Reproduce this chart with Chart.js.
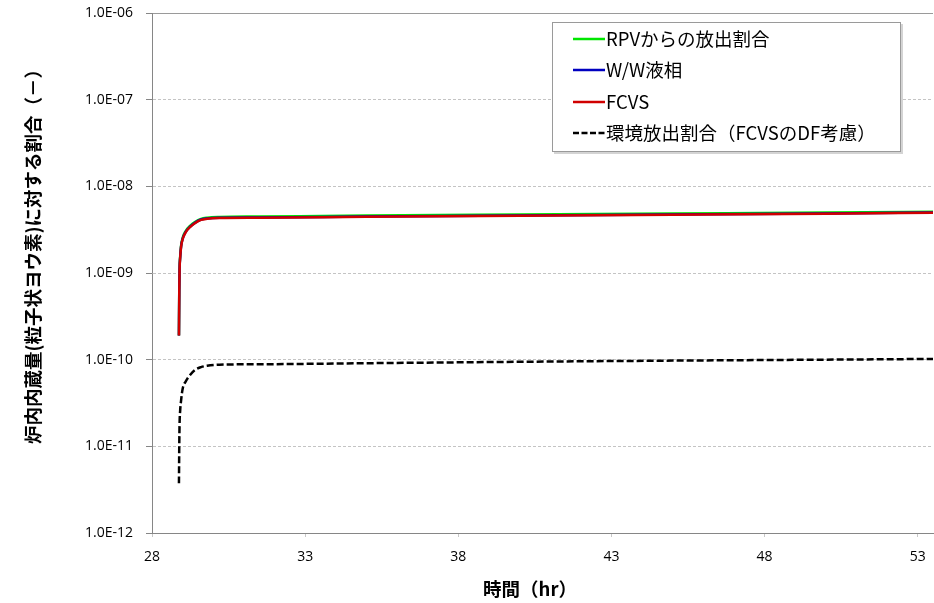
<!DOCTYPE html>
<html>
<head>
<meta charset="utf-8">
<script src="https://cdn.jsdelivr.net/npm/chart.js@4"></script>
<style>
  body { margin: 0; background: #fff; }
</style>
</head>
<body>
<canvas id="chart" width="934" height="603"></canvas>
<script>
const ctx = document.getElementById("chart");

// time axis (hr), shared by all series
const timeHr = [28.88, 28.89, 28.90, 28.92, 28.95, 29.0, 29.1, 29.25, 29.4, 29.6, 29.8, 30.2, 31.5, 35, 40, 45, 50, 53.5];

// release fractions
const rpvRelease = [1.9e-10, 6.2e-10, 1.12e-9, 1.56e-9, 2.08e-9, 2.55e-9, 3.05e-9, 3.52e-9, 3.88e-9, 4.22e-9, 4.35e-9, 4.43e-9, 4.48e-9, 4.6e-9, 4.73e-9, 4.86e-9, 4.99e-9, 5.1e-9];
const wwLiquid = [1.9e-10, 6.1e-10, 1.1e-9, 1.52e-9, 2.03e-9, 2.48e-9, 2.98e-9, 3.44e-9, 3.79e-9, 4.14e-9, 4.26e-9, 4.34e-9, 4.38e-9, 4.48e-9, 4.61e-9, 4.73e-9, 4.86e-9, 4.98e-9];
const fcvs = [1.9e-10, 6e-10, 1.08e-9, 1.5e-9, 2.0e-9, 2.45e-9, 2.95e-9, 3.4e-9, 3.75e-9, 4.1e-9, 4.22e-9, 4.31e-9, 4.35e-9, 4.45e-9, 4.58e-9, 4.7e-9, 4.83e-9, 4.95e-9];
const envRelease = [3.75e-12, 1.0e-11, 1.8e-11, 2.6e-11, 3.4e-11, 4.6e-11, 5.6e-11, 6.7e-11, 7.6e-11, 8.2e-11, 8.5e-11, 8.75e-11, 8.85e-11, 9.1e-11, 9.45e-11, 9.75e-11, 1.0e-10, 1.02e-10];

const seriesNames = ["RPVからの放出割合", "W/W液相", "FCVS", "環境放出割合（FCVSのDF考慮）"];
const seriesColors = ["#00e600", "#0000c0", "#d00000", "#000000"];

const xTicks = [28, 33, 38, 43, 48, 53];
const yTicks = [1e-12, 1e-11, 1e-10, 1e-9, 1e-8, 1e-7, 1e-6];

const xTitle = "時間（hr）";
const yTitle = "炉内内蔵量(粒子状ヨウ素)に対する割合（－）";

function toPoints(values) {
  return values.map((v, i) => ({ x: timeHr[i], y: v }));
}

// 1.0E-06 style labels
function fmtExp(v) {
  const parts = v.toExponential(1).split("e");
  const exp = parseInt(parts[1]);
  return parts[0] + "E" + (exp < 0 ? "-" : "+") + String(Math.abs(exp)).padStart(2, "0");
}

function makeDataset(i, values, order) {
  return {
    label: seriesNames[i],
    data: toPoints(values),
    borderColor: seriesColors[i],
    backgroundColor: seriesColors[i],
    borderWidth: 2.5,
    borderDash: i == 3 ? [7, 3] : [],
    pointRadius: 0,
    cubicInterpolationMode: "monotone",
    order: order,
  };
}

// titles + legend box drawn on top
const extras = {
  id: "extras",
  afterDraw(chart) {
    const c = chart.ctx;
    c.save();
    c.fillStyle = "#000";
    c.font = "bold 18.5px 'Noto Sans CJK JP'";
    c.textAlign = "center";
    c.textBaseline = "middle";
    c.fillText(xTitle, 530, 589);
    c.translate(33, 252);
    c.rotate(-Math.PI / 2);
    c.fillText(yTitle, 0, 0);
    c.restore();

    // legend
    c.save();
    c.strokeStyle = "#d4d4d4";
    c.lineWidth = 2;
    c.beginPath();
    c.moveTo(902, 24);
    c.lineTo(902, 153);
    c.lineTo(554, 153);
    c.stroke();
    c.fillStyle = "#fff";
    c.fillRect(552, 22, 349, 130);
    c.strokeStyle = "#9a9a9a";
    c.lineWidth = 1;
    c.strokeRect(552.5, 22.5, 348, 129);
    c.font = "18.5px 'Noto Sans CJK JP'";
    c.textAlign = "left";
    c.textBaseline = "middle";
    const rowY = [39, 70, 102, 133];
    for (let i = 0; i < seriesNames.length; i++) {
      c.beginPath();
      c.strokeStyle = seriesColors[i];
      c.lineWidth = 2.5;
      c.setLineDash(i == 3 ? [6, 2.5] : []);
      c.moveTo(573, rowY[i]);
      c.lineTo(605, rowY[i]);
      c.stroke();
      c.setLineDash([]);
      c.fillStyle = "#000";
      c.fillText(seriesNames[i], 606, rowY[i]);
    }
    c.restore();
  },
};

new Chart(ctx, {
  type: "line",
  data: {
    datasets: [
      makeDataset(0, rpvRelease, 3),
      makeDataset(1, wwLiquid, 2),
      makeDataset(2, fcvs, 1),
      makeDataset(3, envRelease, 0),
    ],
  },
  options: {
    responsive: false,
    animation: false,
    layout: { padding: { top: 13, right: 1, bottom: 0, left: 0 } },
    plugins: {
      legend: { display: false },
      tooltip: { enabled: false },
    },
    scales: {
      x: {
        type: "linear",
        min: 28,
        max: 53.5,
        afterBuildTicks: (scale) => {
          scale.ticks = xTicks.map((v) => ({ value: v }));
        },
        afterFit: (scale) => {
          scale.height = 70;
          scale.paddingLeft = 0;
          scale.paddingRight = 0;
        },
        ticks: {
          color: "#000",
          font: { family: "'Open Sans'", size: 14 },
          padding: 12,
          maxRotation: 0,
        },
        grid: {
          drawOnChartArea: false,
          drawTicks: true,
          tickLength: 4,
          tickColor: "#c8c8c8",
        },
        border: { color: "#868686", width: 1 },
      },
      y: {
        type: "logarithmic",
        min: 1e-12,
        max: 1e-6,
        afterBuildTicks: (scale) => {
          scale.ticks = yTicks.map((v) => ({ value: v }));
        },
        afterFit: (scale) => {
          scale.width = 152;
          scale.paddingTop = 0;
          scale.paddingBottom = 0;
        },
        ticks: {
          color: "#000",
          font: { family: "'Open Sans'", size: 14 },
          padding: 13,
          callback: (v) => fmtExp(v),
        },
        grid: {
          color: (c) => (c.tick && c.tick.value == 1e-6 ? "#9a9a9a" : "#c4c4c4"),
          tickLength: 6,
          tickColor: "#868686",
        },
        border: {
          color: "#868686",
          width: 1,
          dash: (c) => (c.tick && c.tick.value != 1e-6 ? [3, 2] : []),
        },
      },
    },
  },
  plugins: [extras],
});
</script>
</body>
</html>
